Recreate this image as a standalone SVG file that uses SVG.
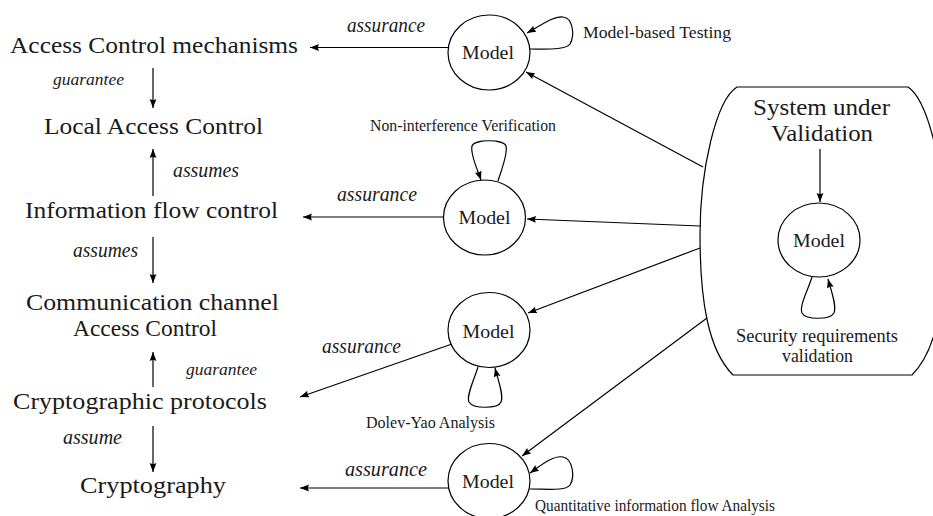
<svg xmlns="http://www.w3.org/2000/svg" width="933" height="516" viewBox="0 0 933 516">
  <style>
    .big { font-family: "Liberation Serif", "DejaVu Serif", serif; font-size: 24px; fill: #1a1a1a; }
    .lbl { font-family: "Liberation Serif", "DejaVu Serif", serif; font-size: 20px; font-style: italic; fill: #1a1a1a; }
    .sml { font-family: "Liberation Serif", "DejaVu Serif", serif; font-size: 17px; font-style: italic; fill: #1a1a1a; }
    .mdl { font-family: "Liberation Serif", "DejaVu Serif", serif; font-size: 19px; fill: #1a1a1a; }
    .cap { font-family: "Liberation Serif", "DejaVu Serif", serif; font-size: 16px; fill: #1a1a1a; }
    .sec { font-family: "Liberation Serif", "DejaVu Serif", serif; font-size: 18px; fill: #1a1a1a; }
    .node { fill: #ffffff; stroke: #000000; stroke-width: 1.2; }
    .edge { fill: none; stroke: #000000; stroke-width: 1.2; marker-end: url(#tip); }
  </style>
  <defs>
    <marker id="tip" markerUnits="userSpaceOnUse" markerWidth="10" markerHeight="8" refX="9" refY="4" orient="auto">
      <path d="M0,0.6 L9,4 L0,7.4 Q2,4 0,0.6 z" fill="#000000"/>
    </marker>
  </defs>
  <rect width="933" height="516" fill="#ffffff"/>

  <!-- container: system under validation -->
  <g id="system-under-validation">
    <path class="node" d="M737,87 H908 C928,100 945,170 945,235 C945,300 937,350 912,375 H733 C708,350 700,300 700,235 C700,170 716,100 737,87 Z"/>
    <text class="big" x="821.5" y="115" text-anchor="middle" textLength="137" lengthAdjust="spacingAndGlyphs">System under</text>
    <text class="big" x="822" y="141" text-anchor="middle" textLength="102" lengthAdjust="spacingAndGlyphs">Validation</text>
    <text class="sec" x="817" y="342" text-anchor="middle" textLength="162" lengthAdjust="spacingAndGlyphs">Security requirements</text>
    <text class="sec" x="817.5" y="362" text-anchor="middle" textLength="71" lengthAdjust="spacingAndGlyphs">validation</text>
  </g>

  <!-- security layers -->
  <g id="access-control-mechanisms">
    <text class="big" x="154" y="53" text-anchor="middle" textLength="288" lengthAdjust="spacingAndGlyphs">Access Control mechanisms</text>
  </g>
  <g id="local-access-control">
    <text class="big" x="153.5" y="134" text-anchor="middle" textLength="219" lengthAdjust="spacingAndGlyphs">Local Access Control</text>
  </g>
  <g id="information-flow-control">
    <text class="big" x="151.5" y="218" text-anchor="middle" textLength="253" lengthAdjust="spacingAndGlyphs">Information flow control</text>
  </g>
  <g id="communication-channel">
    <text class="big" x="152.5" y="310" text-anchor="middle" textLength="253" lengthAdjust="spacingAndGlyphs">Communication channel</text>
    <text class="big" x="145" y="336" text-anchor="middle" textLength="144" lengthAdjust="spacingAndGlyphs">Access Control</text>
  </g>
  <g id="cryptographic-protocols">
    <text class="big" x="140" y="409" text-anchor="middle" textLength="254" lengthAdjust="spacingAndGlyphs">Cryptographic protocols</text>
  </g>
  <g id="cryptography">
    <text class="big" x="153" y="493" text-anchor="middle" textLength="146" lengthAdjust="spacingAndGlyphs">Cryptography</text>
  </g>

  <!-- models -->
  <g id="model-testing">
    <ellipse class="node" cx="489" cy="52.5" rx="41" ry="37.5"/>
    <text class="mdl" x="488" y="58.5" text-anchor="middle" textLength="52" lengthAdjust="spacingAndGlyphs">Model</text>
    <text class="cap" x="583" y="38" textLength="148" lengthAdjust="spacingAndGlyphs">Model-based Testing</text>
  </g>
  <g id="model-noninterference">
    <ellipse class="node" cx="484.5" cy="217.5" rx="41" ry="37.5"/>
    <text class="mdl" x="484.5" y="224" text-anchor="middle" textLength="52" lengthAdjust="spacingAndGlyphs">Model</text>
    <text class="cap" x="370" y="131" textLength="186" lengthAdjust="spacingAndGlyphs">Non-interference Verification</text>
  </g>
  <g id="model-dolev-yao">
    <ellipse class="node" cx="489" cy="330" rx="41" ry="37.5"/>
    <text class="mdl" x="488.5" y="338" text-anchor="middle" textLength="52" lengthAdjust="spacingAndGlyphs">Model</text>
    <text class="cap" x="366" y="428" textLength="129" lengthAdjust="spacingAndGlyphs">Dolev-Yao Analysis</text>
  </g>
  <g id="model-quantitative">
    <ellipse class="node" cx="489" cy="481" rx="41" ry="37.5"/>
    <text class="mdl" x="488" y="488" text-anchor="middle" textLength="52" lengthAdjust="spacingAndGlyphs">Model</text>
    <text class="cap" x="535" y="511" textLength="240" lengthAdjust="spacingAndGlyphs">Quantitative information flow Analysis</text>
  </g>
  <g id="model-system">
    <ellipse class="node" cx="819" cy="240" rx="41" ry="37"/>
    <text class="mdl" x="819" y="246.5" text-anchor="middle" textLength="52" lengthAdjust="spacingAndGlyphs">Model</text>
  </g>

  <!-- connectors -->
  <g id="connectors">
    <!-- layer relations -->
    <line class="edge" x1="153" y1="68" x2="153" y2="108"/>
    <line class="edge" x1="153" y1="196" x2="153" y2="149"/>
    <line class="edge" x1="153" y1="237" x2="153" y2="283"/>
    <line class="edge" x1="153" y1="387" x2="153" y2="352"/>
    <line class="edge" x1="153" y1="426" x2="153" y2="472"/>
    <text class="sml" x="53" y="85" textLength="71" lengthAdjust="spacingAndGlyphs">guarantee</text>
    <text class="lbl" x="173" y="177" textLength="66" lengthAdjust="spacingAndGlyphs">assumes</text>
    <text class="lbl" x="73" y="257" textLength="65" lengthAdjust="spacingAndGlyphs">assumes</text>
    <text class="sml" x="186" y="375" textLength="71" lengthAdjust="spacingAndGlyphs">guarantee</text>
    <text class="lbl" x="63" y="444" textLength="59" lengthAdjust="spacingAndGlyphs">assume</text>

    <!-- assurance edges -->
    <line class="edge" x1="448" y1="47.5" x2="310" y2="47.5"/>
    <line class="edge" x1="443.5" y1="217" x2="303" y2="217"/>
    <line class="edge" x1="452" y1="344" x2="300" y2="397"/>
    <line class="edge" x1="448.5" y1="488" x2="300" y2="488"/>
    <text class="lbl" x="347" y="32" textLength="78" lengthAdjust="spacingAndGlyphs">assurance</text>
    <text class="lbl" x="337" y="201" textLength="80" lengthAdjust="spacingAndGlyphs">assurance</text>
    <text class="lbl" x="322" y="353" textLength="79" lengthAdjust="spacingAndGlyphs">assurance</text>
    <text class="lbl" x="345" y="476" textLength="82" lengthAdjust="spacingAndGlyphs">assurance</text>

    <!-- system to models -->
    <line class="edge" x1="703" y1="167" x2="526" y2="72"/>
    <line class="edge" x1="700" y1="226" x2="527" y2="219"/>
    <line class="edge" x1="700" y1="248" x2="528" y2="313"/>
    <line class="edge" x1="707" y1="318" x2="522" y2="456"/>
    <line class="edge" x1="820" y1="149" x2="820" y2="202"/>

    <!-- self loops -->
    <path class="edge" d="M530,49 C548,49 566,50 570,44 C575,35 573,18 563,17 C553,16 540,26 527,33"/>
    <path class="edge" d="M498,181 C502,168 508,154 506,146 C504,139 474,139 472,146 C470,154 477,168 481,180"/>
    <path class="edge" d="M478,367 C474,380 466,396 469,402 C473,409 498,409 501,402 C504,395 498,380 495,368"/>
    <path class="edge" d="M530,489 C548,489 566,491 570,485 C575,477 573,459 563,457 C553,455 540,466 530,473"/>
    <path class="edge" d="M812,277 C808,290 799,306 802,313 C806,320 830,320 834,313 C837,306 831,290 828,279"/>
  </g>
</svg>
